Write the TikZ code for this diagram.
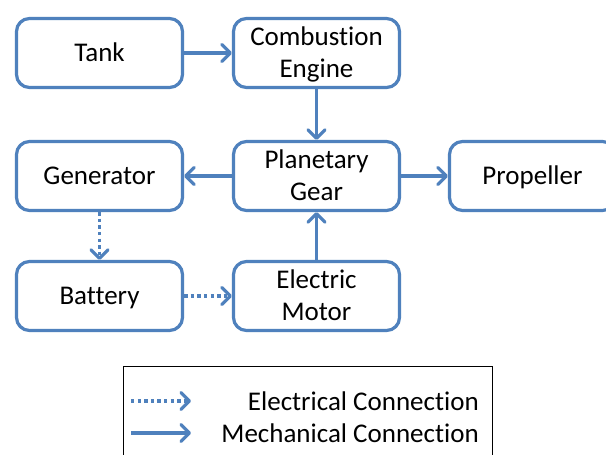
\documentclass[tikz,border=0pt]{standalone}
\usepackage{fontspec}
\setmainfont[RawFeature={-liga;-clig;-dlig}]{Carlito}
\usetikzlibrary{arrows.meta}
\definecolor{linkblue}{HTML}{4F81BD}
% block label, set a little below the optical centre
\newcommand{\blocklabel}[1]{\raisebox{-2pt}[\height][\depth]{\begin{tabular}{@{}c@{}}#1\end{tabular}}}
\tikzset{
  block/.style={draw=linkblue, line width=3.2pt, rounded corners=13pt, fill=white,
    minimum width=166pt, minimum height=69pt, align=center, inner sep=0pt,
    font=\fontsize{27}{32}\selectfont},
  mech/.style={draw=linkblue, line width=3.2pt,
    -{Straight Barb[length=8.5pt,width=17pt,line cap=round,line join=round]}},
  elec/.style={mech, dash pattern=on 3.4pt off 3.2pt},
  legendtext/.style={anchor=east, inner sep=0pt, font=\fontsize{27}{32}\selectfont}
}
\begin{document}
\begin{tikzpicture}[x=1pt, y=-1pt]
  \clip (0,0) rectangle (606,455);
  \fill[white] (0,0) rectangle (606,455);

  % blocks of the drive train
  \node[block] (tank) at (99.5,53) {\blocklabel{Tank}};
  \node[block] (engine) at (316.5,53) {\blocklabel{Combustion\\Engine}};
  \node[block] (gen) at (99.5,176) {\blocklabel{Generator}};
  \node[block] (gear) at (316.5,176) {\blocklabel{Planetary\\Gear}};
  \node[block] (prop) at (532.5,176) {\blocklabel{Propeller}};
  \node[block] (batt) at (99.5,296) {\blocklabel{Battery}};
  \node[block] (motor) at (316.5,296) {\blocklabel{Electric\\Motor}};

  % mechanical links
  \draw[mech] (tank.east) -- (engine.west);
  \draw[mech] (engine.south) -- (gear.north);
  \draw[mech] (gear.west) -- (gen.east);
  \draw[mech] (gear.east) -- (prop.west);
  \draw[mech] (motor.north) -- (gear.south);

  % electrical links
  \draw[elec] (gen.south) -- (batt.north);
  \draw[elec] (batt.east) -- (motor.west);

  % legend
  \draw[black, line width=1pt] (123,366) rectangle (492,470);
  \coordinate (e1) at (131,401);
  \coordinate (e2) at (191,401);
  \coordinate (m1) at (131,433);
  \coordinate (m2) at (191,433);
  \draw[elec] (e1) -- (e2);
  \draw[mech] (m1) -- (m2);
  \node[legendtext] (ltxt1) at (479,401) {Electrical Connection};
  \node[legendtext] (ltxt2) at (479,433) {Mechanical Connection};
\end{tikzpicture}
\end{document}
